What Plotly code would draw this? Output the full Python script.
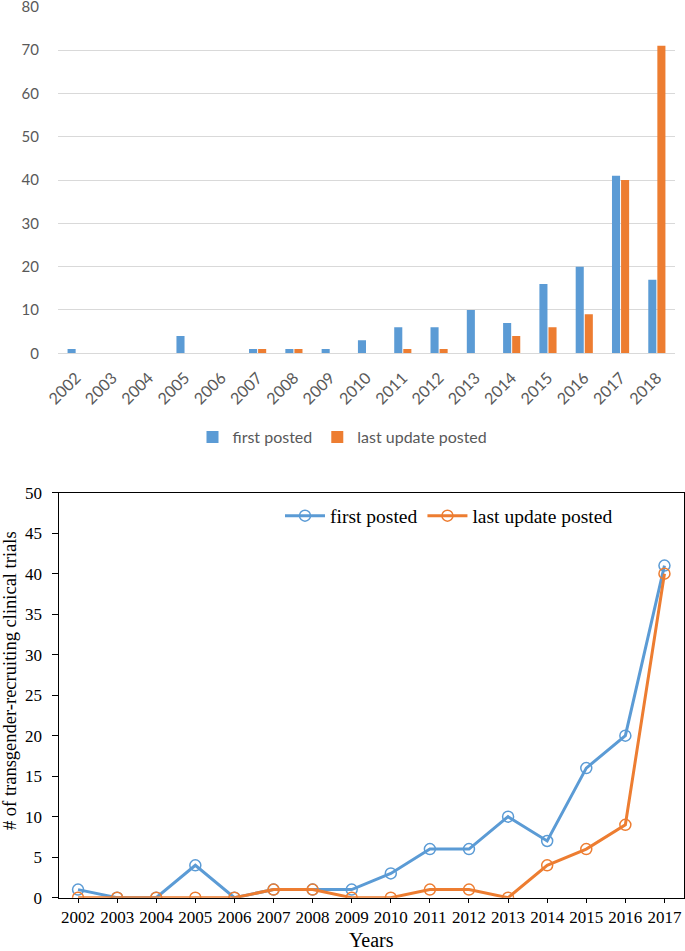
import plotly.graph_objects as go

years_bar = ["2002", "2003", "2004", "2005", "2006", "2007", "2008", "2009", "2010",
             "2011", "2012", "2013", "2014", "2015", "2016", "2017", "2018"]
first_posted_bar = [1, 0, 0, 4, 0, 1, 1, 1, 3, 6, 6, 10, 7, 16, 20, 41, 17]
last_update_bar = [0, 0, 0, 0, 0, 1, 1, 0, 0, 1, 1, 0, 4, 6, 9, 40, 71]

years_line = ["2002", "2003", "2004", "2005", "2006", "2007", "2008", "2009",
              "2010", "2011", "2012", "2013", "2014", "2015", "2016", "2017"]
first_posted_line = [1, 0, 0, 4, 0, 1, 1, 1, 3, 6, 6, 10, 7, 16, 20, 41]
last_update_line = [0, 0, 0, 0, 0, 1, 1, 0, 0, 1, 1, 0, 4, 6, 9, 40]

BLUE = "#5B9BD5"
ORANGE = "#ED7D31"
W, H = 685, 951

def px_x(x):
    return x / W

def px_y(y):
    return 1 - y / H

fig = go.Figure()

fig.add_trace(go.Bar(x=years_bar, y=first_posted_bar, name="first posted",
                     marker=dict(color=BLUE, line=dict(width=0)),
                     xaxis="x", yaxis="y", legend="legend"))
fig.add_trace(go.Bar(x=years_bar, y=last_update_bar, name="last update posted",
                     marker=dict(color=ORANGE, line=dict(width=0)),
                     xaxis="x", yaxis="y", legend="legend"))

fig.add_trace(go.Scatter(x=years_line, y=first_posted_line, name="first posted",
                         mode="lines+markers",
                         line=dict(color=BLUE, width=3),
                         marker=dict(symbol="circle-open", size=11, color=BLUE,
                                     line=dict(width=1.5, color=BLUE)),
                         xaxis="x2", yaxis="y2", legend="legend2"))
fig.add_trace(go.Scatter(x=years_line, y=last_update_line, name="last update posted",
                         mode="lines+markers",
                         line=dict(color=ORANGE, width=3),
                         marker=dict(symbol="circle-open", size=11, color=ORANGE,
                                     line=dict(width=1.5, color=ORANGE)),
                         xaxis="x2", yaxis="y2", legend="legend2"))

calibri = "Lato, 'Open Sans', sans-serif"
times = "'Liberation Serif', 'Times New Roman', serif"
gray = "#595959"

fig.update_layout(
    width=W, height=H,
    margin=dict(l=0, r=0, t=0, b=0, autoexpand=False),
    paper_bgcolor="white", plot_bgcolor="white",
    barmode="group", bargap=0.5, bargroupgap=0.11,
    xaxis=dict(domain=[px_x(58), px_x(675)], anchor="y", type="category",
               tickangle=-45, tickfont=dict(family=calibri, size=16, color=gray),
               showline=True, linecolor="#D9D9D9", linewidth=1,
               showgrid=False, ticks="", ticklabelstandoff=8, automargin=False),
    yaxis=dict(domain=[px_y(353.3), px_y(6.7)], anchor="x", range=[0, 80],
               dtick=10, tickfont=dict(family=calibri, size=15, color=gray),
               showgrid=True, gridcolor="#D9D9D9", gridwidth=1,
               zeroline=False, showline=False, ticks="",
               ticklabelstandoff=18, ticklabeloverflow="allow", automargin=False),
    xaxis2=dict(domain=[px_x(58.5), px_x(684)], anchor="y2", type="category",
                range=[-0.5, 15.5],
                tickfont=dict(family=times, size=17, color="black"),
                showline=True, linecolor="black", linewidth=1, mirror=True,
                ticks="outside", ticklen=4, tickcolor="black", showgrid=False,
                ticklabeloverflow="allow",
                title=dict(text="Years", font=dict(family=times, size=20, color="black"),
                           standoff=6),
                automargin=False),
    yaxis2=dict(domain=[px_y(897.7), px_y(492.7)], anchor="x2", range=[0, 50],
                dtick=5, tickfont=dict(family=times, size=17, color="black"),
                showline=True, linecolor="black", linewidth=1, mirror=True,
                ticks="outside", ticklen=6, tickcolor="black", showgrid=False,
                zeroline=False, ticklabelstandoff=6, ticklabeloverflow="allow",
                automargin=False),
    annotations=[dict(text="# of transgender-recruiting clinical trials",
                      x=px_x(10), y=px_y(681), xref="paper", yref="paper",
                      xanchor="center", yanchor="middle", textangle=-90,
                      showarrow=False,
                      font=dict(family=times, size=18.5, color="black"))],
    legend=dict(orientation="h", x=0.5, xanchor="center", y=px_y(437), yanchor="middle",
                font=dict(family=calibri, size=16, color=gray),
                bgcolor="rgba(0,0,0,0)", itemwidth=30),
    legend2=dict(orientation="h", x=px_x(280), xanchor="left", y=px_y(516),
                 yanchor="middle",
                 font=dict(family=times, size=19.5, color="black"),
                 bgcolor="rgba(0,0,0,0)", itemwidth=40),
    showlegend=True,
)

fig.write_html("out.html",
               config={"displayModeBar": False},
               post_script="document.body.style.margin='0';"
                           "document.body.style.overflow='hidden';")
